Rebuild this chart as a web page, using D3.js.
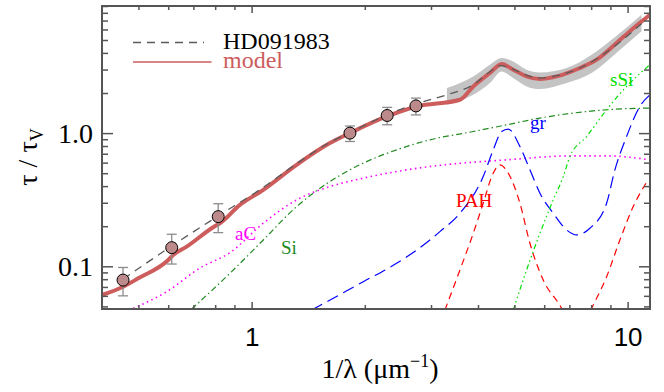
<!DOCTYPE html>
<html>
<head>
<meta charset="utf-8">
<script src="https://cdn.jsdelivr.net/npm/d3@7"></script>
<style>
  body { margin: 0; background: #fff; }
</style>
</head>
<body>
<div id="chart"></div>
<script>
// photometric points (UBV JHK) with error bars
var ptX  = [0.455, 0.613, 0.815, 1.826, 2.294, 2.735]
var ptY  = [0.0788, 0.138, 0.236, 1.0, 1.356, 1.60]
var ptLo = [0.060, 0.104, 0.179, 0.865, 1.155, 1.37]
var ptHi = [0.098, 0.174, 0.295, 1.13, 1.56, 1.83]

// observed extinction curve HD091983
var obsX = [0.4555, 0.6187, 0.815, 1.074, 1.344, 1.615, 1.826, 2.290, 2.747, 3.307, 3.886, 4.303, 4.575, 4.864, 5.387, 5.846, 6.475, 7.780, 9.348, 10.89]
var obsY = [0.0802, 0.1446, 0.2388, 0.3914, 0.6137, 0.8527, 1.009, 1.373, 1.661, 1.941, 2.308, 2.89, 3.206, 3.082, 2.72, 2.591, 2.697, 3.263, 4.612, 6.636]

// uncertainty band of the UV part
var bandX  = [3.307, 3.886, 4.303, 4.624, 4.963, 5.387, 5.846, 6.883, 8.02, 9.348, 10.89]
var bandLo = [1.632, 1.941, 2.376, 2.905, 2.591, 2.241, 2.142, 2.376, 2.826, 4.017, 5.805]
var bandHi = [2.179, 2.665, 3.263, 3.664, 3.454, 2.991, 2.855, 3.082, 3.879, 5.39, 7.75]

// model
var modX = [0.399, 0.4555, 0.4994, 0.6002, 0.6187, 0.6717, 0.7902, 0.8234, 0.9308, 1.074, 1.317, 1.615, 1.826, 2.286, 2.747, 3.581, 3.886, 4.303, 4.624, 4.963, 5.387, 5.846, 6.475, 7.467, 8.275, 9.348, 10.25, 11.47]
var modY = [0.0608, 0.0703, 0.0812, 0.1115, 0.1216, 0.1404, 0.1965, 0.2105, 0.289, 0.3748, 0.5776, 0.841, 1.0, 1.333, 1.585, 1.78, 2.241, 2.826, 3.303, 2.991, 2.665, 2.547, 2.665, 3.082, 3.557, 4.75, 5.98, 7.75]

// model components
var siX = [0.6925, 0.8756, 1.074, 1.317, 1.615, 1.981, 2.430, 2.980, 3.886, 4.767, 5.846, 7.168, 8.794, 11.47]
var siY = [0.0478, 0.0886, 0.1576, 0.2806, 0.4326, 0.5948, 0.7488, 0.8905, 1.028, 1.154, 1.297, 1.414, 1.497, 1.542]

var acX = [0.4843, 0.594, 0.7289, 0.8756, 1.074, 1.317, 1.615, 1.981, 2.430, 2.980, 4.767, 7.168, 8.794, 11.47]
var acY = [0.0483, 0.0644, 0.0971, 0.1266, 0.2105, 0.315, 0.3967, 0.4588, 0.5145, 0.561, 0.6299, 0.675, 0.675, 0.630]

var grX = [1.444, 1.981, 2.430, 2.980, 3.168, 3.581, 4.130, 4.391, 4.624, 4.814, 5.171, 5.498, 5.846, 6.341, 6.883, 7.317, 7.938, 8.794, 9.252, 9.938, 10.78, 11.47]
var grY = [0.0469, 0.0766, 0.1053, 0.1576, 0.182, 0.2503, 0.4718, 0.7488, 1.028, 1.072, 0.793, 0.5297, 0.3539, 0.2503, 0.1875, 0.1719, 0.1931, 0.2977, 0.5297, 0.9428, 1.585, 1.941]

var pahX = [3.266, 3.581, 3.886, 4.130, 4.391, 4.575, 4.814, 5.171, 5.498, 5.965, 6.675, 7.285, 8.02, 8.794, 9.538, 10.35, 11.34]
var pahY = [0.0469, 0.0938, 0.177, 0.2977, 0.5004, 0.5778, 0.5004, 0.2977, 0.1489, 0.0789, 0.0483, 0.0279, 0.0483, 0.0835, 0.1576, 0.2806, 0.4455]

var ssiX = [4.963, 5.387, 5.846, 6.341, 6.743, 7.024, 7.780, 8.794, 9.938, 11.47]
var ssiY = [0.0469, 0.0938, 0.177, 0.315, 0.4718, 0.6668, 0.9428, 1.497, 2.241, 3.263]

// ticks
var xMajor = [1, 10]
var xMinor = [0.5, 0.6, 0.7, 0.8, 0.9, 2, 3, 4, 5, 6, 7, 8, 9]
var yMajor = [0.1, 1]
var yMajorLabels = ["0.1", "1.0"]
var yMinor = [0.05, 0.06, 0.07, 0.08, 0.09, 0.2, 0.3, 0.4, 0.5, 0.6, 0.7, 0.8, 0.9, 2, 3, 4, 5, 6, 7, 8, 9]

var width = 664, height = 392
var pL = 102, pR = 650, pT = 6, pB = 309
var serif = "'Liberation Serif', 'Times New Roman', serif"
var sans = "'Liberation Sans', Arial, sans-serif"

var svg = d3.select("#chart").append("svg")
    .attr("width", width)
    .attr("height", height)
    .style("font-family", serif)

var x = d3.scaleLog().domain([0.4, 11.47]).range([pL, pR])
var y = d3.scaleLog().domain([0.0478, 9.0]).range([pB, pT])

svg.append("clipPath").attr("id", "plotclip")
    .append("rect")
    .attr("x", pL).attr("y", pT)
    .attr("width", pR - pL).attr("height", pB - pT)

var plot = svg.append("g").attr("clip-path", "url(#plotclip)")

function pairs(xs, ys) {
    return xs.map(function(v, i) { return [v, ys[i]] })
}

var line = d3.line()
    .x(function(d) { return x(d[0]) })
    .y(function(d) { return y(d[1]) })
    .curve(d3.curveMonotoneX)

// grey band
var area = d3.area()
    .x(function(d) { return x(d[0]) })
    .y0(function(d) { return y(d[1]) })
    .y1(function(d) { return y(d[2]) })
    .curve(d3.curveMonotoneX)

plot.append("path")
    .datum(bandX.map(function(v, i) { return [v, bandLo[i], bandHi[i]] }))
    .attr("d", area)
    .attr("fill", "#c4c4c4")

// components
var comps = [
    { xs: siX,  ys: siY,  color: "#228b22", dash: "6,3,1.5,3" },
    { xs: acX,  ys: acY,  color: "#ff00ff", dash: "1.5,3.5", w: 1.6 },
    { xs: grX,  ys: grY,  color: "#0000ff", dash: "12,6" },
    { xs: pahX, ys: pahY, color: "#ff0000", dash: "7,5" },
    { xs: ssiX, ys: ssiY, color: "#00e000", dash: "5,3,1.5,3,1.5,3,1.5,3" }
]

comps.forEach(function(c) {
    plot.append("path")
        .datum(pairs(c.xs, c.ys))
        .attr("d", line)
        .attr("fill", "none")
        .attr("stroke", c.color)
        .attr("stroke-width", c.w || 1.2)
        .attr("stroke-dasharray", c.dash)
})

// model
plot.append("path")
    .datum(pairs(modX, modY))
    .attr("d", line)
    .attr("fill", "none")
    .attr("stroke", "#cd5c5c")
    .attr("stroke-width", 4)
    .attr("stroke-linejoin", "round")

// observed
plot.append("path")
    .datum(pairs(obsX, obsY))
    .attr("d", line)
    .attr("fill", "none")
    .attr("stroke", "#5a5a5a")
    .attr("stroke-width", 1.3)
    .attr("stroke-dasharray", "8,6")

// error bars + points
var pts = ptX.map(function(v, i) { return { x: v, y: ptY[i], lo: ptLo[i], hi: ptHi[i] } })
var eb = plot.append("g").attr("stroke", "#8c8c8c").attr("stroke-width", 1.3)
pts.forEach(function(p) {
    eb.append("line").attr("x1", x(p.x)).attr("x2", x(p.x)).attr("y1", y(p.lo)).attr("y2", y(p.hi))
    eb.append("line").attr("x1", x(p.x) - 5).attr("x2", x(p.x) + 5).attr("y1", y(p.lo)).attr("y2", y(p.lo))
    eb.append("line").attr("x1", x(p.x) - 5).attr("x2", x(p.x) + 5).attr("y1", y(p.hi)).attr("y2", y(p.hi))
})
plot.selectAll("circle.pt").data(pts).enter().append("circle")
    .attr("cx", function(d) { return x(d.x) })
    .attr("cy", function(d) { return y(d.y) })
    .attr("r", 6)
    .attr("fill", "#bc8a8a")
    .attr("stroke", "#000")
    .attr("stroke-width", 1)

// component labels
var labels = [
    { t: "aC",  x: 235, y: 240, c: "#ff00ff" },
    { t: "Si",  x: 281, y: 254, c: "#228b22" },
    { t: "gr",  x: 530, y: 129, c: "#0000ff" },
    { t: "PAH", x: 456, y: 207, c: "#ff0000" },
    { t: "sSi", x: 610, y: 86,  c: "#00e000" }
]
svg.selectAll("text.lab").data(labels).enter().append("text")
    .attr("x", function(d) { return d.x })
    .attr("y", function(d) { return d.y })
    .attr("fill", function(d) { return d.c })
    .attr("font-size", "19px")
    .text(function(d) { return d.t })

// axes: ticks point inward on all four sides
var axisColor = "#555"
function styleAxis(g) {
    g.select(".domain").remove()
    g.selectAll(".tick line").attr("stroke", axisColor).attr("stroke-width", 1.5)
    g.selectAll(".tick text").attr("fill", "#000")
}

svg.append("g").attr("transform", "translate(0," + pB + ")")
    .call(d3.axisBottom(x).tickValues(xMinor).tickSize(-4).tickFormat(""))
    .call(styleAxis)
svg.append("g").attr("transform", "translate(0," + pB + ")")
    .call(d3.axisBottom(x).tickValues(xMajor).tickSize(-7).tickPadding(19)
        .tickFormat(function(d) { return d3.format("d")(d) }))
    .call(styleAxis)
    .selectAll(".tick text")
    .style("font-family", sans)
    .style("font-size", "26px")

svg.append("g").attr("transform", "translate(0," + pT + ")")
    .call(d3.axisTop(x).tickValues(xMinor).tickSize(-4).tickFormat(""))
    .call(styleAxis)
svg.append("g").attr("transform", "translate(0," + pT + ")")
    .call(d3.axisTop(x).tickValues(xMajor).tickSize(-7).tickFormat(""))
    .call(styleAxis)

svg.append("g").attr("transform", "translate(" + pL + ",0)")
    .call(d3.axisLeft(y).tickValues(yMinor).tickSize(-6).tickFormat(""))
    .call(styleAxis)
svg.append("g").attr("transform", "translate(" + pL + ",0)")
    .call(d3.axisLeft(y).tickValues(yMajor).tickSize(-11)
        .tickFormat(function(d, i) { return yMajorLabels[i] }))
    .call(styleAxis)
    .selectAll(".tick text")
    .style("font-family", serif)
    .style("font-size", "28px")
    .attr("x", -9)

svg.append("g").attr("transform", "translate(" + pR + ",0)")
    .call(d3.axisRight(y).tickValues(yMinor).tickSize(-6).tickFormat(""))
    .call(styleAxis)
svg.append("g").attr("transform", "translate(" + pR + ",0)")
    .call(d3.axisRight(y).tickValues(yMajor).tickSize(-11).tickFormat(""))
    .call(styleAxis)

// frame
svg.append("rect")
    .attr("x", pL).attr("y", pT)
    .attr("width", pR - pL).attr("height", pB - pT)
    .attr("fill", "none")
    .attr("stroke", axisColor)
    .attr("stroke-width", 2)

// axis titles
var xt = svg.append("text")
    .attr("x", 380).attr("y", 378)
    .attr("text-anchor", "middle")
    .attr("font-size", "28px")
xt.append("tspan").text("1/λ (μm")
xt.append("tspan").attr("dy", -11).attr("font-size", "18px").text("−1")
xt.append("tspan").attr("dy", 11).text(")")

var yt = svg.append("text")
    .attr("transform", "translate(37,157) rotate(-90)")
    .attr("text-anchor", "middle")
    .attr("font-size", "28px")
yt.append("tspan").text("τ / τ")
yt.append("tspan").attr("dy", 6).attr("font-size", "18px").text("V")

// legend
var leg = svg.append("g")
leg.append("line")
    .attr("x1", 133).attr("x2", 204).attr("y1", 42.5).attr("y2", 42.5)
    .attr("stroke", "#5a5a5a").attr("stroke-width", 1.3).attr("stroke-dasharray", "8,6")
leg.append("text").attr("x", 223).attr("y", 48.5)
    .attr("font-size", "24px").attr("fill", "#000").text("HD091983")
leg.append("line")
    .attr("x1", 133).attr("x2", 211.5).attr("y1", 62).attr("y2", 62)
    .attr("stroke", "#cd5c5c").attr("stroke-width", 1.3)
leg.append("text").attr("x", 223).attr("y", 68)
    .attr("font-size", "24px").attr("fill", "#cd5c5c").text("model")
</script>
</body>
</html>
